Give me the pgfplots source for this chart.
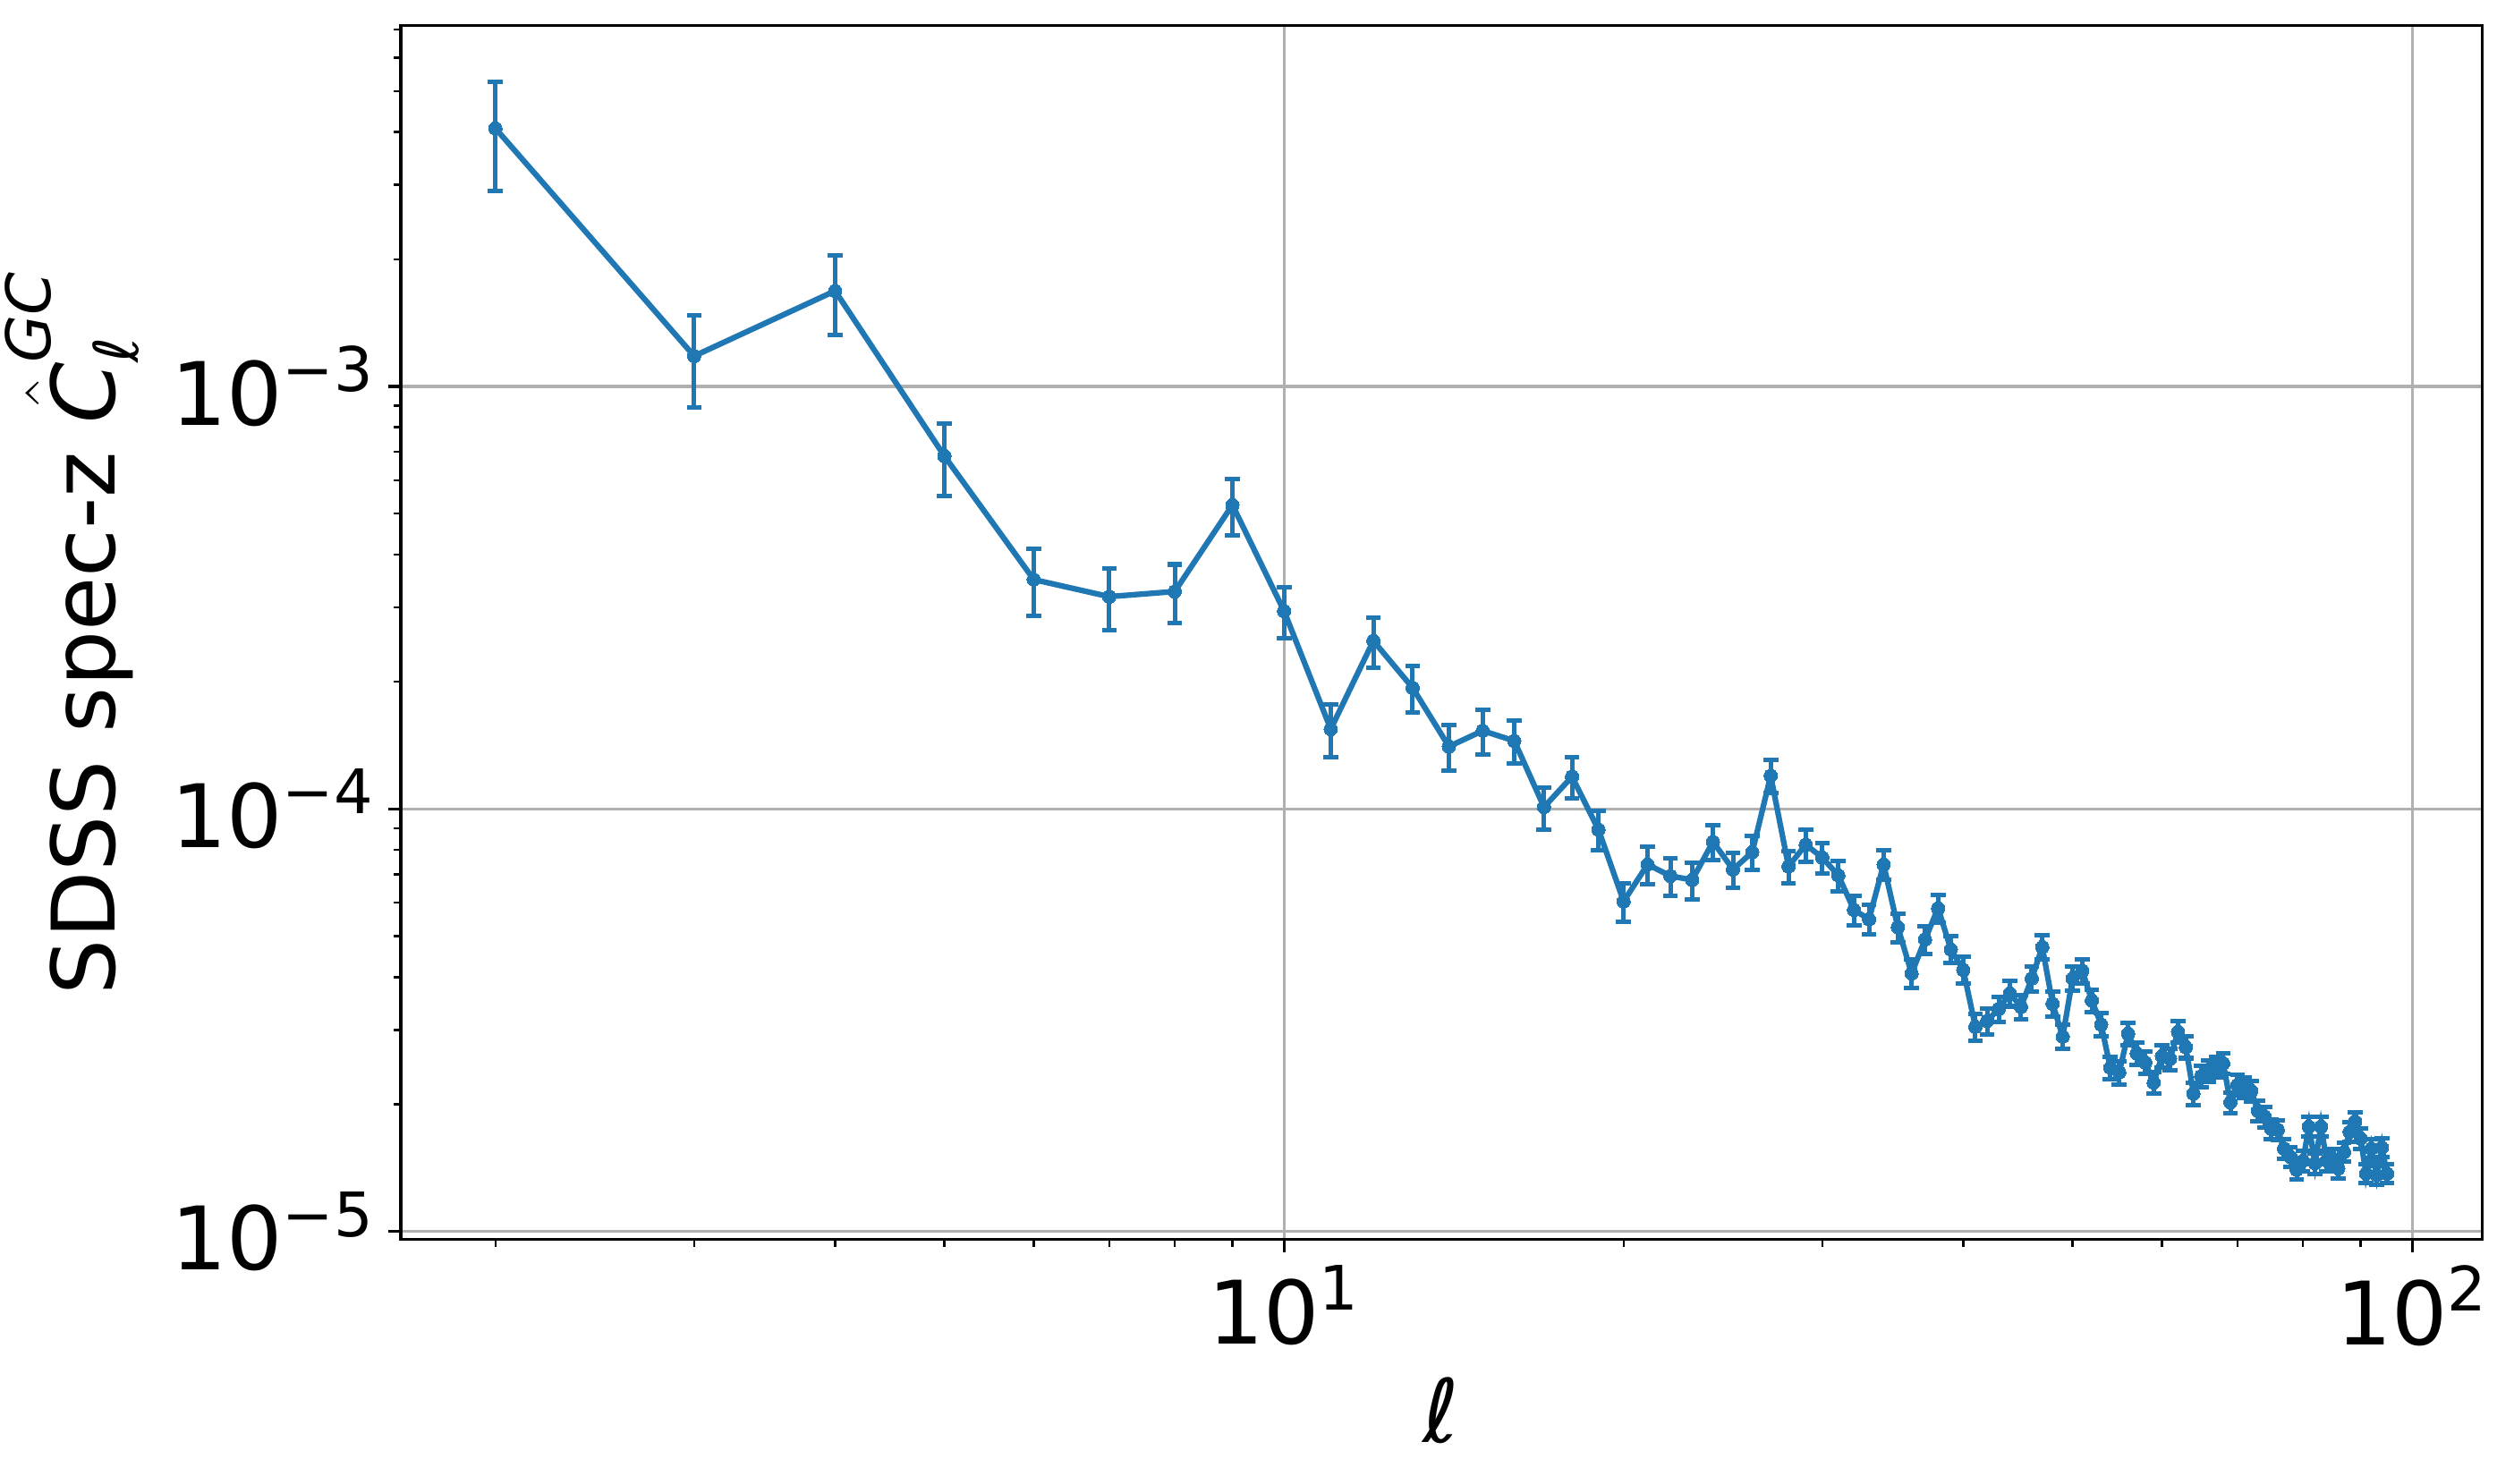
\documentclass[border=0pt]{standalone}
\usepackage{amsmath}
\usepackage{fontspec}
\setmainfont{DejaVu Sans}
\usepackage{pgfplots}
\usepackage{pgfplotstable}
\pgfplotsset{compat=1.18}
\definecolor{c0}{RGB}{31,119,180}
\definecolor{gridgray}{RGB}{176,176,176}

\pgfplotstableread{
l v e
2 4.08e-3 1.18e-3
3 1.18e-3 0.29e-3
4 1.683e-3 0.36e-3
5 6.84e-4 1.33e-4
6 3.49e-4 0.63e-4
7 3.18e-4 0.53e-4
8 3.27e-4 0.52e-4
9 5.24e-4 0.80e-4
10 2.94e-4 0.41e-4
11 1.545e-4 0.22e-4
12 2.50e-4 0.34e-4
13 1.935e-4 0.245e-4
14 1.405e-4 0.175e-4
15 1.531e-4 0.183e-4
16 1.449e-4 0.17e-4
17 1.01e-4 0.115e-4
18 1.192e-4 0.133e-4
19 8.93e-5 0.95e-5
20 6.04e-5 0.64e-5
21 7.39e-5 0.76e-5
22 6.94e-5 0.70e-5
23 6.79e-5 0.67e-5
24 8.36e-5 0.80e-5
25 7.19e-5 0.68e-5
26 7.90e-5 0.73e-5
27 1.198e-4 0.106e-4
28 7.31e-5 0.64e-5
29 8.23e-5 0.72e-5
30 7.67e-5 0.65e-5
31 6.96e-5 0.58e-5
32 5.77e-5 0.47e-5
33 5.48e-5 0.44e-5
34 7.39e-5 0.59e-5
35 5.25e-5 0.41e-5
36 4.08e-5 0.32e-5
37 4.91e-5 0.37e-5
38 5.82e-5 0.43e-5
39 4.65e-5 0.34e-5
40 4.16e-5 0.30e-5
41 3.05e-5 0.22e-5
42 3.15e-5 0.22e-5
43 3.36e-5 0.23e-5
44 3.66e-5 0.25e-5
45 3.40e-5 0.23e-5
46 3.97e-5 0.27e-5
47 4.71e-5 0.31e-5
48 3.46e-5 0.23e-5
49 2.89e-5 0.19e-5
50 3.97e-5 0.26e-5
51 4.14e-5 0.27e-5
52 3.52e-5 0.22e-5
53 3.09e-5 0.19e-5
54 2.44e-5 0.15e-5
55 2.38e-5 0.15e-5
56 2.94e-5 0.18e-5
57 2.64e-5 0.16e-5
58 2.51e-5 0.15e-5
59 2.25e-5 0.135e-5
60 2.60e-5 0.155e-5
61 2.56e-5 0.15e-5
62 2.97e-5 0.175e-5
63 2.73e-5 0.16e-5
64 2.12e-5 0.125e-5
65 2.33e-5 0.135e-5
66 2.40e-5 0.14e-5
67 2.45e-5 0.14e-5
68 2.50e-5 0.145e-5
69 2.02e-5 0.115e-5
70 2.22e-5 0.125e-5
71 2.19e-5 0.125e-5
72 2.15e-5 0.12e-5
73 1.93e-5 0.11e-5
74 1.87e-5 0.105e-5
75 1.75e-5 0.095e-5
76 1.74e-5 0.095e-5
77 1.57e-5 0.085e-5
78 1.50e-5 0.08e-5
79 1.40e-5 0.075e-5
80 1.47e-5 0.08e-5
81 1.77e-5 0.095e-5
82 1.45e-5 0.08e-5
83 1.77e-5 0.095e-5
84 1.47e-5 0.08e-5
85 1.49e-5 0.08e-5
86 1.41e-5 0.075e-5
87 1.54e-5 0.08e-5
88 1.72e-5 0.09e-5
89 1.82e-5 0.095e-5
90 1.66e-5 0.09e-5
91 1.37e-5 0.07e-5
92 1.57e-5 0.08e-5
93 1.36e-5 0.07e-5
94 1.58e-5 0.08e-5
95 1.37e-5 0.07e-5
}\datatab

\begin{document}
\begin{tikzpicture}
\begin{axis}[
  scale only axis,
  width=558pt, height=325.5pt,
  xmode=log, ymode=log,
  xmin=1.649, xmax=115.3,
  ymin=9.57e-6, ymax=7.14e-3,
  axis line style={black, line width=0.8pt},
  tick align=outside,
  tick pos=left,
  major tick length=3.5pt,
  minor tick length=2pt,
  every tick/.style={black, line width=0.8pt},
  every minor tick/.style={black, line width=0.6pt},
  xtick={10,100},
  xticklabels={10\textsuperscript{1},10\textsuperscript{2}},
  minor xtick={2,3,4,5,6,7,8,9,20,30,40,50,60,70,80,90},
  ytick={1e-5,1e-4,1e-3},
  yticklabels={10\textsuperscript{−5},10\textsuperscript{−4},10\textsuperscript{−3}},
  minor ytick={2e-5,3e-5,4e-5,5e-5,6e-5,7e-5,8e-5,9e-5,2e-4,3e-4,4e-4,5e-4,6e-4,7e-4,8e-4,9e-4,2e-3,3e-3,4e-3,5e-3,6e-3,7e-3},
  xmajorgrids, ymajorgrids,
  major grid style={gridgray, line width=0.8pt},
  ticklabel style={font=\fontsize{23.5}{28}\selectfont},
  every axis x label/.style={at={(axis description cs:0.5,-0.141)}, anchor=center},
  every axis y label/.style={at={(axis description cs:-0.158,0.5)}, rotate=90, anchor=center},
  label style={font=\fontsize{23.5}{28}\selectfont},
  xlabel={\itshape ℓ},
  ylabel={SDSS spec-z $\hat{\text{\itshape C}}_{\text{\itshape ℓ}}^{\text{\itshape GC}}$},
]
\addplot[c0, line width=1.5pt, mark=*, mark size=1.8pt,
  mark options={solid, fill=c0, draw=c0, line width=0pt},
  error bars/.cd, y dir=both, y explicit,
  error bar style={c0, line width=1.2pt},
  error mark options={rotate=90, c0, mark size=2pt, line width=1.2pt}]
  table[x=l, y=v, y error=e]{\datatab};
\end{axis}
\pgfresetboundingbox
\path (-107.5pt,-65.4pt) rectangle (566.6pt,332.4pt);
\end{tikzpicture}
\end{document}
